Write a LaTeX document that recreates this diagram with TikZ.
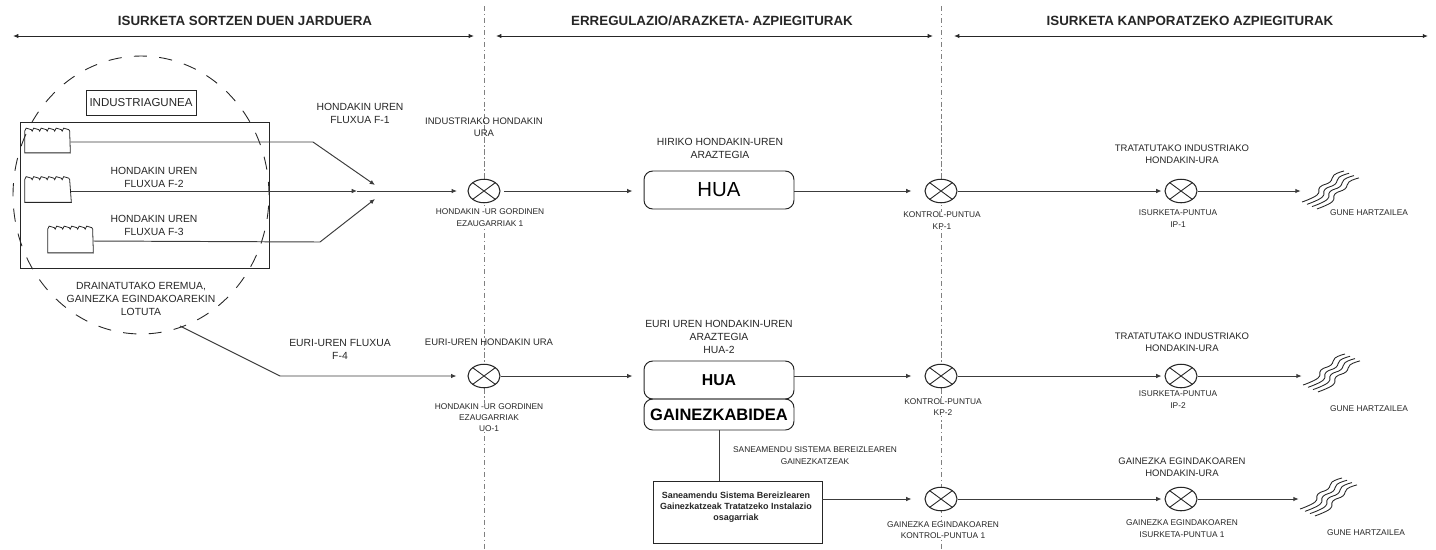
\documentclass[tikz,border=0pt]{standalone}
\usepackage{fontspec}
\setmainfont{Liberation Sans}
\usetikzlibrary{arrows.meta,shapes.geometric}
\definecolor{ink}{HTML}{262626}
\definecolor{pipeink}{HTML}{3C3C3C}
\newcommand{\factory}[1]{%
  \draw[ink,line width=0.45pt] (#1.north west) foreach \k in {1,...,6} {-- ++(1.5,-3) -- ++(5.2,1.5) -- ++(0.8,1.5)} -- (#1.south east) -- (#1.south west) -- cycle;}
\newcommand{\water}[1]{%
  \foreach \k in {0,1,2,3}
    \draw[ink,line width=0.5pt,shift={(#1.center)},shift={(5*\k,2.3*\k)}] plot[smooth,tension=0.8] coordinates {(-29,12) (-14,5) (-11,-3) (-1,-8) (3,-15) (13,-19)};}
\begin{document}
\begin{tikzpicture}
  [x=0.02cm,y=-0.02cm,
   txt/.style={text=ink,align=center,inner sep=0pt,font=\fontsize{5.9}{7.4}\selectfont},
   mid/.style={txt,font=\fontsize{5.4}{7}\selectfont},
   tiny/.style={txt,font=\fontsize{4.75}{6.4}\selectfont},
   head/.style={txt,font=\fontsize{7.6}{8}\selectfont\bfseries},
   span/.style={ink,line width=0.5pt,{Latex[length=3pt,width=2.4pt]}-{Latex[length=3pt,width=2.4pt]}},
   flow/.style={pipeink,line width=0.55pt,-{Latex[length=3pt,width=2.6pt]}},
   pipe/.style={pipeink,line width=0.55pt},
   axis/.style={gray,line width=0.45pt,dash pattern=on 3pt off 1.5pt on 0.8pt off 1.5pt},
   point/.style={draw=ink,fill=white,ellipse,inner sep=0pt,line width=0.6pt,
     minimum width=0.64cm,minimum height=0.47cm,
     path picture={\draw[ink,line width=0.5pt] (path picture bounding box.south west) -- (path picture bounding box.north east)
       (path picture bounding box.north west) -- (path picture bounding box.south east);}},
   plant/.style={draw=ink,rounded corners=5pt,line width=0.55pt,minimum width=3cm,text=black,inner sep=0pt},
   blank/.style={inner sep=0pt,minimum height=0.42cm,minimum width=1.2cm}]
  \useasboundingbox (0,0) rectangle (1436,549);
  % section rules
  \coordinate (ax1t) at (484,6); \coordinate (ax1b) at (484,549);
  \coordinate (ax2t) at (941,6); \coordinate (ax2b) at (941,549);
  \draw[axis] (ax1t) -- (ax1b);
  \draw[axis] (ax2t) -- (ax2b);
  \node[head] (head1) at (245,21) {ISURKETA SORTZEN DUEN JARDUERA};
  \node[head] (head2) at (712,21) {ERREGULAZIO/ARAZKETA- AZPIEGITURAK};
  \node[head] (head3) at (1190,21) {ISURKETA KANPORATZEKO AZPIEGITURAK};
  \coordinate (s1a) at (13,36); \coordinate (s1b) at (474,36);
  \coordinate (s2a) at (496,36); \coordinate (s2b) at (933,36);
  \coordinate (s3a) at (954,36); \coordinate (s3b) at (1428,36);
  \draw[span] (s1a) -- (s1b);
  \draw[span] (s2a) -- (s2b);
  \draw[span] (s3a) -- (s3b);
  % industrial area
  \node[draw=ink,line width=0.5pt,dash pattern=on 7.5pt off 7pt,ellipse,inner sep=0pt,minimum width=5.12cm,minimum height=5.56cm] (zone) at (141,195) {};
  \node[draw=ink,line width=0.5pt,minimum width=4.98cm,minimum height=2.92cm,inner sep=0pt] (site) at (144.5,195) {};
  \node[draw=ink,line width=0.5pt,txt,minimum width=2.2cm,minimum height=0.5cm,font=\fontsize{6.55}{7}\selectfont] (area) at (141,102.5) {INDUSTRIAGUNEA};
  \node[minimum width=0.9cm,minimum height=0.42cm,inner sep=0pt] (f1) at (47.5,142) {};
  \node[minimum width=0.92cm,minimum height=0.44cm,inner sep=0pt] (f2) at (48,191) {};
  \node[minimum width=0.9cm,minimum height=0.46cm,inner sep=0pt] (f3) at (70.5,241) {};
  \factory{f1} \factory{f2} \factory{f3}
  \node[txt] (lf1) at (360,113.5) {HONDAKIN UREN\\FLUXUA F-1};
  \node[txt] (lf2) at (154,177) {HONDAKIN UREN\\FLUXUA F-2};
  \node[txt] (lf3) at (154,225) {HONDAKIN UREN\\FLUXUA F-3};
  \node[txt] (lzone) at (141,298.5) {DRAINATUTAKO EREMUA,\\GAINEZKA EGINDAKOAREKIN\\LOTUTA};
  % first row
  \node[point] (c1) at (484,191) {};
  \node[point] (k1) at (941,191) {};
  \node[point] (p1) at (1181,191) {};
  \node[plant,minimum height=0.76cm,font=\fontsize{11.6}{13}\selectfont] (hua1) at (719,190) {HUA};
  \node[blank] (gh1) at (1331,190) {};
  \water{gh1}
  \coordinate (b1) at (313,142); \coordinate (m1) at (375,185);
  \coordinate (b3) at (320,242); \coordinate (m3) at (375,199);
  \coordinate (m2) at (357,191);
  \draw[flow] (f1.east) -- (b1) -- (m1);
  \draw[flow] (f3.east) -- (b3) -- (m3);
  \draw[flow] (f2.east) -- (m2);
  \draw[flow,shorten >=6pt] (m2) -- (c1);
  \draw[flow,shorten <=2pt,shorten >=6.3pt] (c1) -- (hua1.west |- c1);
  \draw[flow,shorten >=7.4pt] (hua1.east |- k1) -- (k1.west);
  \draw[flow,shorten >=1.7pt] (k1) -- (p1);
  \draw[flow] (p1) -- (gh1.west |- p1);
  \node[mid] (l1a) at (484,127.5) {INDUSTRIAKO HONDAKIN\\URA};
  \node[tiny,fill=white] (l1b) at (490,217.5) {HONDAKIN -UR GORDINEN\\EZAUGARRIAK 1};
  \node[txt] (l1c) at (720,148.5) {HIRIKO HONDAKIN-UREN\\ARAZTEGIA};
  \node[tiny,fill=white] (l1d) at (942,220.5) {KONTROL-PUNTUA\\KP-1};
  \node[mid] (l1e) at (1182,154) {TRATATUTAKO INDUSTRIAKO\\HONDAKIN-URA};
  \node[tiny] (l1f) at (1178,218.5) {ISURKETA-PUNTUA\\IP-1};
  \node[tiny] (l1g) at (1369,213) {GUNE HARTZAILEA};
  % second row
  \node[point] (c2) at (484,376) {};
  \node[point] (k2) at (941,376) {};
  \node[point] (p2) at (1181,376) {};
  \node[plant,minimum height=0.76cm,font=\fontsize{9}{11}\selectfont\bfseries] (hua2) at (719,380) {HUA};
  \node[plant,minimum height=0.62cm,font=\fontsize{9.4}{11}\selectfont\bfseries] (over) at (719,414.5) {GAINEZKABIDEA};
  \node[blank] (gh2) at (1332,373) {};
  \water{gh2}
  \coordinate (d1) at (180,326); \coordinate (d2) at (280,376);
  \draw[flow,shorten >=6.3pt] (d1) -- (d2) -- (c2);
  \draw[flow,shorten >=6.3pt] (c2) -- (hua2.west |- c2);
  \draw[flow,shorten >=7.4pt] (hua2.east |- k2) -- (k2.west);
  \draw[flow,shorten >=1.7pt] (k2) -- (p2);
  \draw[flow] (p2) -- (gh2.west |- p2);
  \node[txt] (l2a) at (340,349.5) {EURI-UREN FLUXUA\\F-4};
  \node[mid] (l2b) at (489,342) {EURI-UREN HONDAKIN URA};
  \node[tiny,fill=white] (l2c) at (489,417.5) {HONDAKIN -UR GORDINEN\\EZAUGARRIAK\\UO-1};
  \node[txt] (l2d) at (719,336.5) {EURI UREN HONDAKIN-UREN\\ARAZTEGIA\\HUA-2};
  \node[tiny,fill=white] (l2e) at (943,407) {KONTROL-PUNTUA\\KP-2};
  \node[mid] (l2f) at (1182,342) {TRATATUTAKO INDUSTRIAKO\\HONDAKIN-URA};
  \node[tiny] (l2g) at (1178,399.5) {ISURKETA-PUNTUA\\IP-2};
  \node[tiny] (l2h) at (1369,409) {GUNE HARTZAILEA};
  % third row
  \node[draw=ink,line width=0.55pt,minimum width=3.38cm,minimum height=1.24cm,inner sep=0pt] (aux) at (737.5,512) {};
  \node[tiny,font=\fontsize{5.1}{6.3}\selectfont\bfseries] (laux) at (736,507) {Saneamendu Sistema Bereizlearen\\Gainezkatzeak Tratatzeko Instalazio\\osagarriak};
  \node[point] (k3) at (941,499) {};
  \node[point] (p3) at (1181,499) {};
  \node[blank] (gh3) at (1329,497) {};
  \water{gh3}
  \draw[pipe] (over.south) -- (over.south |- aux.north);
  \draw[flow,shorten >=7.4pt] (aux.east |- k3) -- (k3.west);
  \draw[flow,shorten >=1.7pt] (k3) -- (p3);
  \draw[flow] (p3) -- (gh3.west |- p3);
  \node[tiny] (l3a) at (815,455.5) {SANEAMENDU SISTEMA BEREIZLEAREN\\GAINEZKATZEAK};
  \node[tiny,fill=white] (l3b) at (943,530) {GAINEZKA EGINDAKOAREN\\KONTROL-PUNTUA 1};
  \node[mid] (l3c) at (1182,467) {GAINEZKA EGINDAKOAREN\\HONDAKIN-URA};
  \node[tiny] (l3d) at (1182,528.5) {GAINEZKA EGINDAKOAREN\\ISURKETA-PUNTUA 1};
  \node[tiny] (l3e) at (1366,533) {GUNE HARTZAILEA};
\end{tikzpicture}
\end{document}
